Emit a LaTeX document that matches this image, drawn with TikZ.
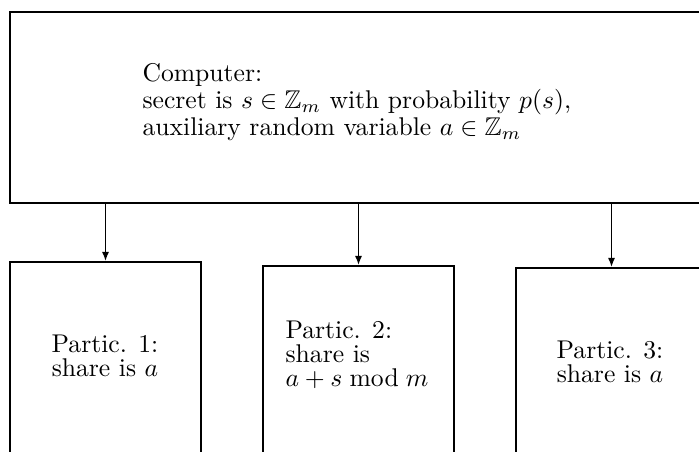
\documentclass[tikz,border=0pt]{standalone}
\usepackage{amsmath, amssymb}
\usetikzlibrary{arrows.meta, fit}

\begin{document}
\begin{tikzpicture}[
  x=0.39pt, y=-0.39pt,
  box/.style={draw, line width=0.75pt, inner sep=0pt},
  txt/.style={font=\fontsize{10}{9.4}\selectfont, inner sep=0pt},
  arrow/.style={-{Latex[length=3.6pt,width=2.8pt]}, line width=0.55pt}
]
\useasboundingbox (0,0) rectangle (699,452);
\clip (0,0) rectangle (699,452);

\node[box, fit={(10,12) (730,203)}] (comp) {};
\node[txt, anchor=west, align=left] (comptext) at (142,102)
  {Computer:\\ secret is $s\in\mathbb{Z}_m$ with probability $p(s)$,\\
   auxiliary random variable $a\in\mathbb{Z}_m$};

\node[box, fit={(10,262) (201,480)}] (p1) {};
\node[box, fit={(263,266) (454,480)}] (p2) {};
\node[box, fit={(516,268) (707,480)}] (p3) {};

\node[txt, align=center] (t1) at (105,356) {Partic. 1:\\ share is $a$};
\node[txt, align=left] (t2) at (357,355) {Partic. 2:\\ share is\\ $a+s\bmod m$};
\node[txt, align=center] (t3) at (610,362) {Partic. 3:\\ share is $a$};

\draw[arrow] (p1.north |- comp.south) -- (p1.north);
\draw[arrow] (p2.north |- comp.south) -- (p2.north);
\draw[arrow] (p3.north |- comp.south) -- (p3.north);
\end{tikzpicture}
\end{document}
